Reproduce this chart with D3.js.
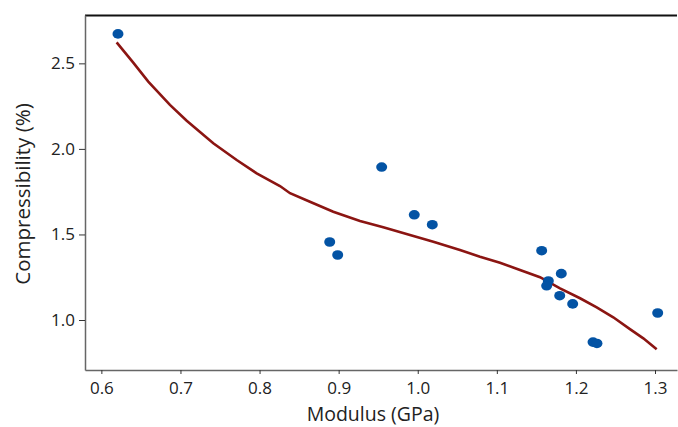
<!DOCTYPE html>
<html>
<head>
<meta charset="utf-8">
<script src="https://cdn.jsdelivr.net/npm/d3@7"></script>
<style>
  body { margin: 0; background: #fff; }
  text { font-family: "Open Sans", "Noto Sans", sans-serif; }
</style>
</head>
<body>
<div id="chart"></div>
<script>
// measured points
var modulus = [0.621, 0.8887, 0.8988, 0.9544, 0.9956, 1.0184, 1.1567, 1.1815, 1.1651, 1.163, 1.1795, 1.1959, 1.2216, 1.2266, 1.3034];
var compress = [2.672, 1.456, 1.380, 1.894, 1.615, 1.557, 1.405, 1.271, 1.228, 1.200, 1.142, 1.094, 0.871, 0.863, 1.041];

// smoothed fit line
var fitX = [0.6193, 0.6403, 0.6593, 0.6867, 0.7079, 0.7415, 0.7711, 0.7964, 0.8258, 0.8385, 0.8637, 0.8932, 0.9270, 0.9564, 0.9902, 1.0197, 1.0534, 1.0787, 1.1040, 1.1293, 1.1546, 1.1799, 1.2052, 1.2263, 1.2472, 1.2683, 1.2852, 1.3021];
var fitY = [2.623, 2.504, 2.393, 2.257, 2.165, 2.033, 1.935, 1.857, 1.783, 1.741, 1.691, 1.633, 1.579, 1.542, 1.497, 1.458, 1.409, 1.370, 1.335, 1.292, 1.250, 1.185, 1.127, 1.074, 1.016, 0.947, 0.893, 0.829];

var xTicks = [0.6, 0.7, 0.8, 0.9, 1.0, 1.1, 1.2, 1.3];
var yTicks = [1.0, 1.5, 2.0, 2.5];

var margin = {top: 15, right: 1, bottom: 57, left: 85},
    width = 678 - margin.left - margin.right,
    height = 427 - margin.top - margin.bottom;

var x = d3.scaleLinear().domain([0.5793, 1.3278]).range([0, width]);
var y = d3.scaleLinear().domain([0.7078, 2.7826]).range([height, 0]);

var svg = d3.select("#chart").append("svg")
    .attr("width", 678)
    .attr("height", 427);

var g = svg.append("g")
    .attr("transform", "translate(" + margin.left + "," + margin.top + ")");

// top border
g.append("line")
    .attr("x1", 0).attr("x2", width)
    .attr("y1", 0.5).attr("y2", 0.5)
    .attr("stroke", "#111").attr("stroke-width", 1.8);

var xAxis = g.append("g")
    .attr("transform", "translate(0," + height + ")")
    .call(d3.axisBottom(x).tickValues(xTicks).tickSize(4).tickSizeOuter(0).tickFormat(d3.format(".1f")));

var yAxis = g.append("g")
    .call(d3.axisLeft(y).tickValues(yTicks).tickSize(6).tickSizeOuter(0).tickFormat(d3.format(".1f")));

[xAxis, yAxis].forEach(function(a) {
  a.select(".domain").attr("stroke", "#666").attr("stroke-width", 1.5);
  a.selectAll(".tick line").attr("stroke", "#333");
  a.selectAll(".tick text").attr("fill", "#222").style("font-size", "17px");
});
xAxis.selectAll(".tick text").attr("dy", "1.0em");
yAxis.selectAll(".tick text").attr("x", -10);

// fit line
var line = d3.line()
    .x(function(d, i) { return x(fitX[i]); })
    .y(function(d, i) { return y(fitY[i]); });

g.append("path")
    .datum(fitX)
    .attr("d", line)
    .attr("fill", "none")
    .attr("stroke", "#8b1512")
    .attr("stroke-width", 2.6);

// points
g.selectAll(".pt")
    .data(modulus)
  .enter().append("ellipse")
    .attr("class", "pt")
    .attr("cx", function(d) { return x(d); })
    .attr("cy", function(d, i) { return y(compress[i]); })
    .attr("rx", 5.5)
    .attr("ry", 4.8)
    .attr("fill", "#0353a4");

// axis titles
svg.append("text")
    .attr("x", 373)
    .attr("y", 421)
    .attr("text-anchor", "middle")
    .attr("fill", "#222")
    .style("font-size", "19.5px")
    .text("Modulus (GPa)");

svg.append("text")
    .attr("transform", "translate(30,194) rotate(-90)")
    .attr("text-anchor", "middle")
    .attr("fill", "#222")
    .style("font-size", "20.5px")
    .text("Compressibility (%)");
</script>
</body>
</html>
